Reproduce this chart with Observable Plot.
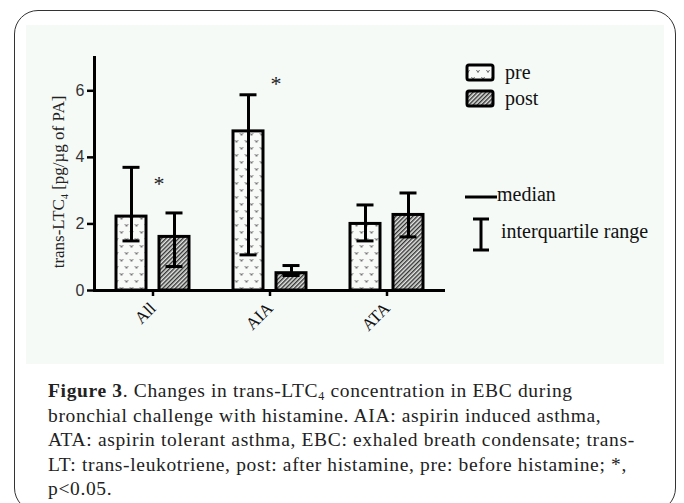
<!DOCTYPE html>
<html><head><meta charset="utf-8">
<script src="https://cdn.jsdelivr.net/npm/d3@7"></script>
<script src="https://cdn.jsdelivr.net/npm/@observablehq/plot@0.6"></script>
<style>
body{margin:0;background:#fff;width:684px;height:503px;overflow:hidden;position:relative;}
#box{position:absolute;left:14px;top:10px;width:662px;height:502px;border:1.5px solid #333;border-radius:24px;box-sizing:border-box;}
#panel{position:absolute;left:26px;top:25px;width:638px;height:339px;background:#f5faf7;}
#chart{position:absolute;left:26px;top:25px;}
#caption{position:absolute;left:48px;top:379px;font:19.5px "Liberation Serif",serif;letter-spacing:0.65px;line-height:24.5px;color:#222;white-space:nowrap;}
#caption sub{font-size:12px;vertical-align:-3px;line-height:0;}
#chart svg [aria-label="y-axis tick label"] text{font-family:"Liberation Sans",sans-serif;font-size:16px;fill:#333;}
#chart svg [aria-label="x-axis tick label"] text{font-family:"Liberation Serif",serif;font-size:17px;fill:#111;}
</style></head><body>
<div id="box"></div>
<div id="panel"></div>
<div id="chart"></div>
<div id="caption"><b>Figure 3</b>. Changes in trans-LTC<sub>4</sub> concentration in EBC during<br>bronchial challenge with histamine. AIA: aspirin induced asthma,<br>ATA: aspirin tolerant asthma, EBC: exhaled breath condensate; trans-<br>LT: trans-leukotriene, post: after histamine, pre: before histamine; *,<br>p&lt;0.05.</div>
<script>
const groups = ["All", "AIA", "ATA"];
const series = ["pre", "post"];
const preMedian = [2.22, 4.78, 2.0];
const preQ1 = [1.49, 1.07, 1.49];
const preQ3 = [3.70, 5.88, 2.57];
const postMedian = [1.61, 0.52, 2.27];
const postQ1 = [0.72, 0.45, 1.61];
const postQ3 = [2.33, 0.75, 2.93];
const yTicks = [0, 2, 4, 6];
const starGroups = ["All", "AIA"];
const starValues = [3.2, 6.2];
const legendItems = ["median", "interquartile range"];

const rows = [];
groups.forEach((g, i) => {
  rows.push({group: g, series: "pre", median: preMedian[i], q1: preQ1[i], q3: preQ3[i]});
  rows.push({group: g, series: "post", median: postMedian[i], q1: postQ1[i], q3: postQ3[i]});
});
const stars = starGroups.map((g, i) => ({group: g, y: starValues[i]}));

const W = 638, H = 339, mL = 68, mR = 219, mT = 32, mB = 74;
const step = (W - mL - mR) / groups.length;
const barW = 30, off = 21.5, capW = 17;
const barInset = (step - barW) / 2, capInset = (step - capW) / 2;

const marks = [
  Plot.axisY({ticks: yTicks, tickFormat: "d", tickSize: 7, tickPadding: 3, strokeWidth: 2.5, label: null}),
  Plot.axisX({tickSize: 6, tickPadding: 9, tickRotate: -45, strokeWidth: 2.5, label: null})
];
series.forEach((s, k) => {
  const dx = k === 0 ? -off : off;
  const data = rows.filter(d => d.series === s);
  marks.push(Plot.barY(data, {x: "group", y: "median", dx, insetLeft: barInset, insetRight: barInset, fill: `url(#pat-${s})`, stroke: "#000", strokeWidth: 3}));
});
series.forEach((s, k) => {
  const dx = k === 0 ? -off : off;
  const data = rows.filter(d => d.series === s);
  marks.push(Plot.ruleX(data, {x: "group", y1: "q1", y2: "q3", dx, stroke: "#000", strokeWidth: 3}));
  marks.push(Plot.tickY(data, {x: "group", y: "q1", dx, insetLeft: capInset, insetRight: capInset, stroke: "#000", strokeWidth: 3}));
  marks.push(Plot.tickY(data, {x: "group", y: "q3", dx, insetLeft: capInset, insetRight: capInset, stroke: "#000", strokeWidth: 3}));
});
marks.push(Plot.ruleY([0], {stroke: "#000", strokeWidth: 3}));
marks.push(Plot.frame({anchor: "left", stroke: "#000", strokeWidth: 3}));
marks.push(Plot.text(stars, {x: "group", y: "y", text: () => "*", dx: 6, fontSize: 22, fontFamily: "Liberation Serif", fill: "#222"}));

const chart = Plot.plot({
  width: W, height: H,
  marginLeft: mL, marginRight: mR, marginTop: mT, marginBottom: mB,
  style: {background: "transparent", overflow: "visible"},
  x: {domain: groups, padding: 0, axis: null},
  y: {domain: [0, 7], axis: null},
  marks
});
document.getElementById("chart").appendChild(chart);

const svg = d3.select(chart);
const defs = svg.insert("defs", ":first-child");
const pPre = defs.append("pattern").attr("id", "pat-pre").attr("patternUnits", "userSpaceOnUse").attr("width", 10).attr("height", 14);
pPre.append("rect").attr("width", 10).attr("height", 14).attr("fill", "#f8faf8");
pPre.append("path").attr("d", "M0.5,3 L2,5.5 L3.5,3 M5.5,10 L7,12.5 L8.5,10").attr("fill", "none").attr("stroke", "#555").attr("stroke-width", 0.9);
const pPost = defs.append("pattern").attr("id", "pat-post").attr("patternUnits", "userSpaceOnUse").attr("width", 3).attr("height", 3).attr("patternTransform", "rotate(45)");
pPost.append("rect").attr("width", 3).attr("height", 3).attr("fill", "#e2e5e2");
pPost.append("line").attr("x1", 0.7).attr("x2", 0.7).attr("y1", 0).attr("y2", 3).attr("stroke", "#333").attr("stroke-width", 1.4);

// y-axis label with subscript
const yl = svg.append("text").attr("transform", "translate(38,157) rotate(-90)").attr("text-anchor", "middle")
  .attr("font-family", "Liberation Serif").attr("font-size", 17).attr("fill", "#222");
yl.append("tspan").text("trans-LTC");
yl.append("tspan").text("4").attr("font-size", 10).attr("dy", 4);
yl.append("tspan").text(" [pg/µg of PA]").attr("dy", -4);

// legend
const lg = svg.append("g").attr("font-family", "Liberation Serif").attr("font-size", 20).attr("fill", "#111").attr("text-anchor", "start");
series.forEach((s, k) => {
  const y = 40 + k * 26;
  lg.append("rect").attr("x", 441).attr("y", y).attr("width", 26).attr("height", 15).attr("rx", 2)
    .attr("fill", `url(#pat-${s})`).attr("stroke", "#000").attr("stroke-width", 3);
  lg.append("text").attr("x", 479).attr("y", y + 7.5).attr("dy", "0.32em").text(s);
});
lg.append("line").attr("x1", 439).attr("x2", 471).attr("y1", 172).attr("y2", 172).attr("stroke", "#000").attr("stroke-width", 3);
lg.append("text").attr("x", 471).attr("y", 170).attr("dy", "0.32em").text(legendItems[0]);
lg.append("path").attr("d", "M455,194 V225 M447,194 H463 M447,225 H463").attr("stroke", "#000").attr("stroke-width", 3).attr("fill", "none");
lg.append("text").attr("x", 475).attr("y", 207).attr("dy", "0.32em").text(legendItems[1]);
</script>
</body></html>
